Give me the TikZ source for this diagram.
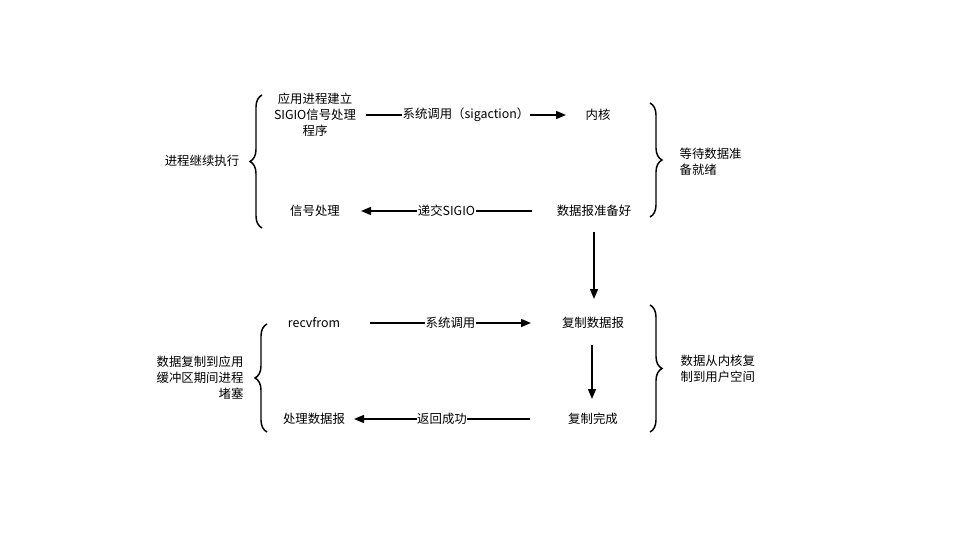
\documentclass[tikz,border=0pt]{standalone}
\usepackage{fontspec}
\setmainfont{Noto Sans CJK SC}
\usetikzlibrary{arrows.meta,decorations.pathreplacing}
\begin{document}
\begin{tikzpicture}[x=0.75pt,y=-0.75pt,
  every node/.style={font=\fontsize{9.3}{12}\selectfont,inner sep=1pt},
  txt/.style={align=center},
  conn/.style={line width=1.1pt,-{Triangle[length=7.5pt,width=6pt]}},
  lbl/.style={fill=white,inner sep=0.5pt},
  brc/.style={line width=1.1pt,decorate,decoration={brace,amplitude=9pt}}]
\useasboundingbox (0,0) rectangle (964,539);
% top group
\node[txt] (app) at (315,115) {应用进程建立\\SIGIO信号处理\\程序};
\node (kern) at (598,115) {内核};
\node (sig) at (315,211) {信号处理};
\node (ready) at (594,211) {数据报准备好};
\node (cont) at (202,161) {进程继续执行};
\node[align=left,anchor=west] (wait) at (678,162) {等待数据准\\备就绪};
\coordinate (a1s) at (366,115);
\coordinate (a1e) at (566,115);
\draw[conn] (a1s) -- node[lbl] {系统调用（sigaction）} (a1e);
\coordinate (a2s) at (532,211);
\coordinate (a2e) at (361,211);
\draw[conn] (a2s) -- node[lbl] {递交SIGIO} (a2e);
\coordinate (a3s) at (594,232);
\coordinate (a3e) at (594,299);
\draw[conn] (a3s) -- (a3e);
\coordinate (b1a) at (262,228);
\coordinate (b1b) at (262,95);
\draw[brc] (b1a) -- (b1b);
\coordinate (b2a) at (650,103);
\coordinate (b2b) at (650,217);
\draw[brc] (b2a) -- (b2b);
% bottom group
\node (recv) at (314,323) {recvfrom};
\node (copy) at (593,323) {复制数据报};
\node (done) at (593,419) {复制完成};
\node (proc) at (314,419) {处理数据报};
\node[align=right,anchor=east] (block) at (245,378) {数据复制到应用\\缓冲区期间进程\\堵塞};
\node[align=left,anchor=west] (k2u) at (679,369) {数据从内核复\\制到用户空间};
\coordinate (c1s) at (370,323);
\coordinate (c1e) at (531,323);
\draw[conn] (c1s) -- node[lbl] {系统调用} (c1e);
\coordinate (c2s) at (530,419);
\coordinate (c2e) at (354,419);
\draw[conn] (c2s) -- node[lbl] {返回成功} (c2e);
\coordinate (c3s) at (592,345);
\coordinate (c3e) at (592,399);
\draw[conn] (c3s) -- (c3e);
\coordinate (b3a) at (267,432);
\coordinate (b3b) at (267,324);
\draw[brc] (b3a) -- (b3b);
\coordinate (b4a) at (650,305);
\coordinate (b4b) at (650,432);
\draw[brc] (b4a) -- (b4b);
\end{tikzpicture}
\end{document}
